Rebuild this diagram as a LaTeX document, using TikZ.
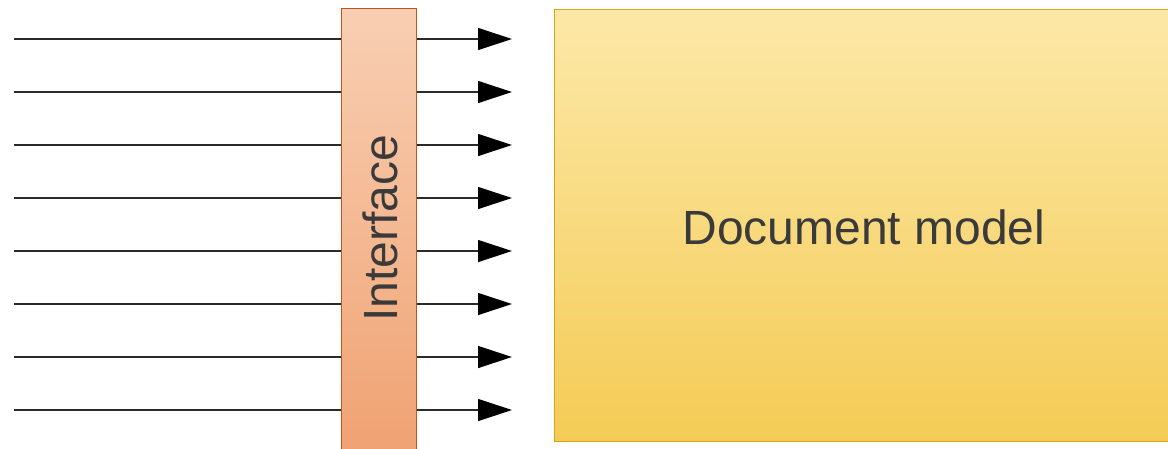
\documentclass[tikz,border=0pt]{standalone}
\usepackage{fontspec}
\setmainfont{Liberation Sans}
\usetikzlibrary{arrows.meta}
\definecolor{linegray}{HTML}{2A2A2A}
\definecolor{txtgray}{HTML}{3A3A3A}
\definecolor{ifTop}{HTML}{F8CFB3}
\definecolor{ifBot}{HTML}{F0A272}
\definecolor{ifBorder}{HTML}{C0561A}
\definecolor{dmTop}{HTML}{FCE8A8}
\definecolor{dmBot}{HTML}{F4CB55}
\definecolor{dmBorder}{HTML}{D9A514}
\tikzset{
  feed/.style={draw=linegray, line width=1.2pt, -{Triangle[length=34pt,width=22pt,color=black]}},
  label/.style={text=txtgray, font=\fontsize{48}{48}\selectfont, inner sep=0pt},
}
\begin{document}
\begin{tikzpicture}[x=1pt,y=-1pt]
\useasboundingbox (0,0) rectangle (1168,448);
\foreach \i in {0,...,7}{
  \coordinate (s\i) at (14,{39+53*\i});
  \coordinate (t\i) at (512,{39+53*\i});
  \draw[feed] (s\i) -- (t\i);
}
\node[draw=ifBorder, line width=1pt, top color=ifTop, bottom color=ifBot,
      minimum width=75pt, minimum height=445pt, anchor=north west, inner sep=0pt]
      (iface) at (341,8) {};
\node[label, rotate=90] (ifl) at (380,228) {Interface};
\node[draw=dmBorder, line width=1.2pt, top color=dmTop, bottom color=dmBot,
      minimum width=620pt, minimum height=432pt, anchor=north west, inner sep=0pt]
      (dm) at (554,9) {};
\node[label] (dml) at (864,227) {Document model};
\end{tikzpicture}
\end{document}
